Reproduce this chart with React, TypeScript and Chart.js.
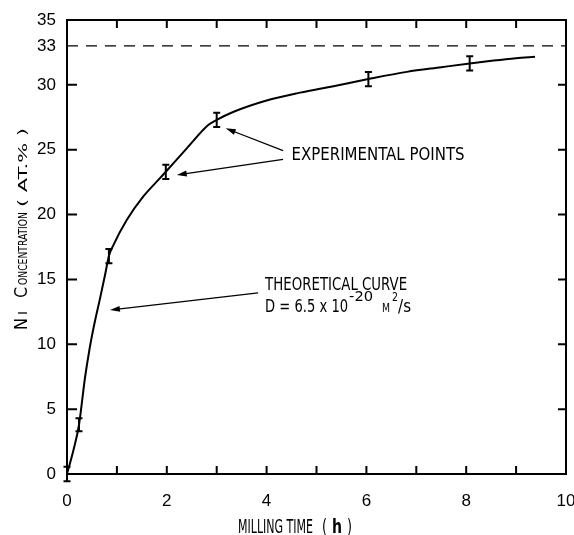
import React, { useEffect, useRef } from "react";
import { Chart, registerables } from "chart.js";

Chart.register(...registerables);

const FONT = '"Liberation Sans Narrow", "DejaVu Sans Condensed", "Liberation Sans", sans-serif';
const TICK_FONT = '"Liberation Sans", sans-serif';

// Theoretical curve: milling time (h) vs Ni concentration (at.%)
const curveTime = [0, 0.13, 0.24, 0.36, 0.45, 0.55, 0.66, 0.76, 0.84, 0.93, 1.2, 1.53, 1.83, 1.98, 2.4, 2.83, 3.0, 3.34, 4.0, 4.67, 5.34, 6.04, 6.81, 7.5, 8.07, 8.55, 9.0, 9.38];
const curveConc = [0, 1.85, 3.78, 7.4, 9.6, 11.6, 13.5, 15.3, 16.8, 17.65, 19.6, 21.4, 22.67, 23.3, 25.1, 26.9, 27.3, 27.93, 28.8, 29.4, 29.9, 30.45, 31.0, 31.36, 31.65, 31.87, 32.05, 32.17];

// Experimental points with error bars
const expTime = [0, 0.24, 0.84, 1.98, 3.0, 6.04, 8.07];
const expConc = [0, 3.8, 16.8, 23.3, 27.3, 30.45, 31.65];
const expErr = [0.55, 0.5, 0.55, 0.55, 0.55, 0.55, 0.55];

// Saturation level
const saturationLevel = 33;
const saturationSpan = [0, 10];

// Axis ticks
const yTickValues = [0, 5, 10, 15, 20, 25, 30, 33, 35];
const yTickMarks = [5, 10, 15, 20, 25, 30];
const xLabelValues = [0, 2, 4, 6, 8, 10];

function drawFitted(ctx: CanvasRenderingContext2D, text: string, x: number, y: number, size: number, width: number, weight = "normal") {
  ctx.save();
  ctx.font = `${weight} ${size}px ${FONT}`;
  const w = ctx.measureText(text).width;
  ctx.translate(x, y);
  ctx.scale(width / w, 1);
  ctx.textBaseline = "alphabetic";
  ctx.textAlign = "left";
  ctx.fillStyle = "#000";
  ctx.fillText(text, 0, 0);
  ctx.restore();
}

function drawArrow(ctx: CanvasRenderingContext2D, x1: number, y1: number, x2: number, y2: number) {
  const ang = Math.atan2(y2 - y1, x2 - x1);
  const len = 10;
  const hw = 3;
  ctx.beginPath();
  ctx.moveTo(x1, y1);
  ctx.lineTo(x2 - Math.cos(ang) * len * 0.6, y2 - Math.sin(ang) * len * 0.6);
  ctx.lineWidth = 1.3;
  ctx.stroke();
  ctx.beginPath();
  ctx.moveTo(x2, y2);
  ctx.lineTo(x2 - Math.cos(ang) * len - Math.sin(ang) * hw, y2 - Math.sin(ang) * len + Math.cos(ang) * hw);
  ctx.lineTo(x2 - Math.cos(ang) * len + Math.sin(ang) * hw, y2 - Math.sin(ang) * len - Math.cos(ang) * hw);
  ctx.closePath();
  ctx.fill();
}

const decorPlugin = {
  id: "decor",
  afterDatasetsDraw(chart: any) {
    const { ctx, chartArea: a, scales } = chart;
    const x = scales.x;
    const y = scales.y;
    ctx.save();
    ctx.strokeStyle = "#000";
    ctx.fillStyle = "#000";

    // frame
    ctx.lineWidth = 2;
    ctx.strokeRect(a.left, a.top, a.right - a.left, a.bottom - a.top);

    // inward tick marks
    x.ticks.forEach((t: any) => {
      if (t.value <= 0 || t.value >= 10) return;
      const px = x.getPixelForValue(t.value);
      ctx.beginPath();
      ctx.moveTo(px, a.bottom);
      ctx.lineTo(px, a.bottom - 8);
      ctx.moveTo(px, a.top);
      ctx.lineTo(px, a.top + 8);
      ctx.stroke();
    });
    yTickMarks.forEach((v) => {
      const py = y.getPixelForValue(v);
      ctx.beginPath();
      ctx.moveTo(a.left, py);
      ctx.lineTo(a.left + 10, py);
      ctx.moveTo(a.right, py);
      ctx.lineTo(a.right - 8, py);
      ctx.stroke();
    });

    // error bars
    ctx.lineWidth = 2;
    expTime.forEach((t, i) => {
      const px = x.getPixelForValue(t);
      const top = y.getPixelForValue(expConc[i] + expErr[i]);
      const bot = y.getPixelForValue(expConc[i] - expErr[i]);
      ctx.beginPath();
      ctx.moveTo(px, top);
      ctx.lineTo(px, bot);
      ctx.moveTo(px - 3.5, top);
      ctx.lineTo(px + 3.5, top);
      ctx.moveTo(px - 3.5, bot);
      ctx.lineTo(px + 3.5, bot);
      ctx.stroke();
    });

    // annotations
    const P = (vx: number, vy: number) => [x.getPixelForValue(vx), y.getPixelForValue(vy)];
    const [e1x, e1y] = P(4.33, 24.93);
    const [e1tx, e1ty] = P(3.18, 26.65);
    drawArrow(ctx, e1x, e1y, e1tx, e1ty);
    const [e2x, e2y] = P(4.33, 24.26);
    const [e2tx, e2ty] = P(2.2, 23.05);
    drawArrow(ctx, e2x, e2y, e2tx, e2ty);
    const [t1x, t1y] = P(3.83, 13.96);
    const [t1tx, t1ty] = P(0.86, 12.64);
    drawArrow(ctx, t1x, t1y, t1tx, t1ty);

    const [ex, ey] = P(4.5, 24.2);
    drawFitted(ctx, "EXPERIMENTAL POINTS", ex, ey, 18, 173);
    const [tx, ty] = P(3.97, 14.19);
    drawFitted(ctx, "THEORETICAL CURVE", tx, ty, 18, 142);
    const [dx, dy] = P(3.97, 12.49);
    drawFitted(ctx, "D = 6.5 x 10", dx, dy, 18, 83);
    drawFitted(ctx, "-20", dx + 84, dy - 11, 14, 24);
    drawFitted(ctx, "M", dx + 117, dy, 12, 8);
    drawFitted(ctx, "2", dx + 127, dy - 11, 13, 6);
    drawFitted(ctx, "/s", dx + 133, dy, 18, 13);
    ctx.restore();
  },
  afterDraw(chart: any) {
    const { ctx } = chart;
    ctx.save();
    // x axis title
    drawFitted(ctx, "MILLING TIME", 238, 533, 20, 75);
    drawFitted(ctx, "(", 322, 533, 20, 5);
    drawFitted(ctx, "h", 332, 533, 20, 10, "bold");
    drawFitted(ctx, ")", 347, 533, 20, 5);
    // y axis title (small caps)
    ctx.translate(27, 330);
    ctx.rotate(-Math.PI / 2);
    drawFitted(ctx, "N", 0, 0, 17, 12);
    drawFitted(ctx, "I", 15, 0, 13, 4);
    drawFitted(ctx, "C", 32, 0, 17, 11);
    drawFitted(ctx, "ONCENTRATION", 45, 0, 13, 73);
    drawFitted(ctx, "( AT.% )", 123, 0, 13, 79);
    ctx.restore();
  },
};

export default function App() {
  const ref = useRef<HTMLCanvasElement>(null);
  useEffect(() => {
    if (!ref.current) return;
    const chart = new Chart(ref.current, {
      type: "scatter",
      data: {
        datasets: [
          {
            type: "line",
            data: curveTime.map((t, i) => ({ x: t, y: curveConc[i] })),
            borderColor: "#000",
            borderWidth: 2,
            pointRadius: 0,
            cubicInterpolationMode: "monotone",
            fill: false,
          },
          {
            type: "line",
            data: saturationSpan.map((t) => ({ x: t, y: saturationLevel })),
            borderColor: "#000",
            borderWidth: 1.2,
            borderDash: [11, 8],
            pointRadius: 0,
            fill: false,
          },
        ],
      },
      options: {
        responsive: false,
        animation: false,
        events: [],
        layout: { padding: { top: 20, right: 8, left: 0, bottom: 0 } },
        plugins: { legend: { display: false }, tooltip: { enabled: false } },
        scales: {
          x: {
            type: "linear",
            min: 0,
            max: 10,
            grid: { display: false, drawTicks: false },
            border: { display: false },
            ticks: {
              stepSize: 1,
              autoSkip: false,
              maxRotation: 0,
              padding: 17,
              color: "#000",
              font: { family: TICK_FONT, size: 17 },
              callback: (v: any) => (xLabelValues.includes(Number(v)) ? String(v) : ""),
            },
            afterFit: (s: any) => {
              s.height = 61;
              s.paddingLeft = 0;
              s.paddingRight = 0;
            },
          },
          y: {
            type: "linear",
            min: 0,
            max: 35,
            grid: { display: false, drawTicks: false },
            border: { display: false },
            afterBuildTicks: (s: any) => {
              s.ticks = yTickValues.map((v) => ({ value: v }));
            },
            ticks: {
              autoSkip: false,
              padding: 11,
              color: "#000",
              font: { family: TICK_FONT, size: 17 },
              callback: (v: any) => String(v),
            },
            afterFit: (s: any) => {
              s.width = 67;
              s.paddingTop = 0;
              s.paddingBottom = 0;
            },
          },
        },
      },
      plugins: [decorPlugin],
    } as any);
    return () => chart.destroy();
  }, []);
  return (
    <div style={{ position: "absolute", left: 0, top: 0, width: 574, height: 535, background: "#fff" }}>
      <canvas ref={ref} width={574} height={535} />
    </div>
  );
}
